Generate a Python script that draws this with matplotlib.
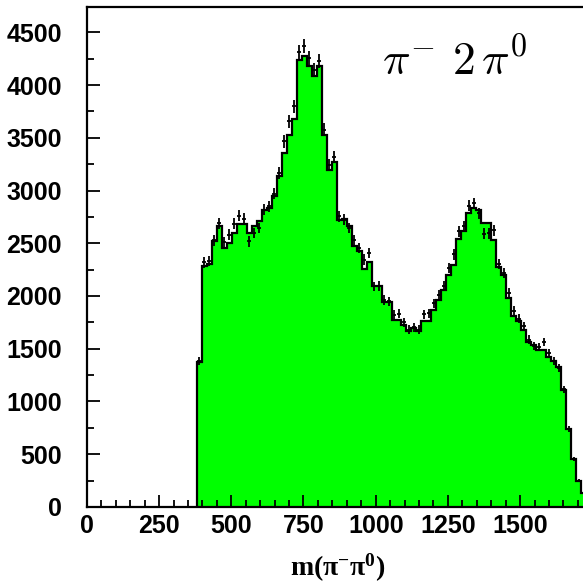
import numpy as np
import matplotlib
matplotlib.use("Agg")
import matplotlib.pyplot as plt

# bin layout (MeV)
bin_start = 380.0
bin_width = 17.3

# green histogram (MC), one value per bin
mc_counts = [1373, 2280, 2305, 2517, 2660, 2454, 2500, 2597, 2680, 2680,
             2597, 2660, 2707, 2818, 2838, 2944, 3134, 3356, 3530, 3678,
             4235, 4273, 4184, 4089, 4184, 3530, 3191, 3270, 2723, 2730,
             2660, 2476, 2422, 2255, 2318, 2095, 2095, 1940, 1940, 1768,
             1768, 1727, 1664, 1695, 1664, 1760, 1760, 1869, 1958, 2053,
             2195, 2296, 2540, 2612, 2786, 2834, 2818, 2691, 2691, 2527,
             2274, 2195, 1980, 1806, 1758, 1676, 1560, 1537, 1490, 1490,
             1426, 1379, 1328, 1110, 740, 458, 245, 130]

# data points with error bars
data_counts = [1380, 2318, 2328, 2527, 2691, 2508, 2581, 2686, 2762, 2730,
               2517, 2597, 2644, 2818, 2850, 2970, 3166, 3466, 3657, 3799,
               4311, 4368, 4257, 4146, 4225, 3577, 3245, 3320, 2755, 2723,
               2644, 2529, 2455, 2345, 2408, 2090, 2096, 1963, 1948, 1822,
               1830, 1751, 1680, 1704, 1680, 1828, 1835, 1932, 2011, 2097,
               2265, 2394, 2612, 2660, 2855, 2880, 2786, 2590, 2596, 2622,
               2306, 2217, 2027, 1860, 1785, 1714, 1587, 1524, 1518, 1564,
               1458, 1380, 1320, 1116, 737, 455, 250, 130]

x_ticks = [0, 250, 500, 750, 1000, 1250, 1500]
y_ticks = [0, 500, 1000, 1500, 2000, 2500, 3000, 3500, 4000, 4500]

mc = np.array(mc_counts, dtype=float)
data = np.array(data_counts, dtype=float)
edges = bin_start + bin_width * np.arange(len(mc) + 1)
centers = 0.5 * (edges[:-1] + edges[1:])

fig = plt.figure(figsize=(5.83, 5.86), dpi=100)
ax = fig.add_axes([0.149, 0.135, 0.867, 0.853])

ax.stairs(mc, edges, baseline=0, fill=True, color='#00ff00', lw=0)
ax.stairs(mc, edges, baseline=0, fill=False, color='black', lw=1.6)
ax.errorbar(centers, data, yerr=np.sqrt(data), xerr=6, fmt='none',
            ecolor='black', elinewidth=1.3, capsize=0)

ax.set_xlim(0, 1750)
ax.set_ylim(0, 4740)
ax.set_xticks(x_ticks)
ax.set_yticks(y_ticks)
ax.set_xticks(np.arange(0, 1751, 50), minor=True)
ax.set_yticks(np.arange(0, 4741, 250), minor=True)

ax.tick_params(which='both', direction='in', width=1.3)
ax.tick_params(which='major', length=9)
ax.tick_params(which='minor', length=5)
ax.tick_params(axis='y', pad=18)
ax.tick_params(axis='x', pad=5)
for lab in ax.get_xticklabels() + ax.get_yticklabels():
    lab.set_fontfamily('Liberation Sans')
    lab.set_fontweight('bold')
    lab.set_fontsize(18)
for sp in ax.spines.values():
    sp.set_linewidth(1.6)

fig.text(0.58, 0.031, r'm(π$\mathregular{^{-}}$π$\mathregular{^{0}}$)',
         ha='center', va='center', fontsize=20,
         fontfamily='Liberation Serif', fontweight='bold')
fig.text(0.78, 0.893, r'$\pi^{-}\ 2\,\pi^{0}$', ha='center', va='center',
         fontsize=33, math_fontfamily='cm')

fig.savefig('out.png', dpi=100)
